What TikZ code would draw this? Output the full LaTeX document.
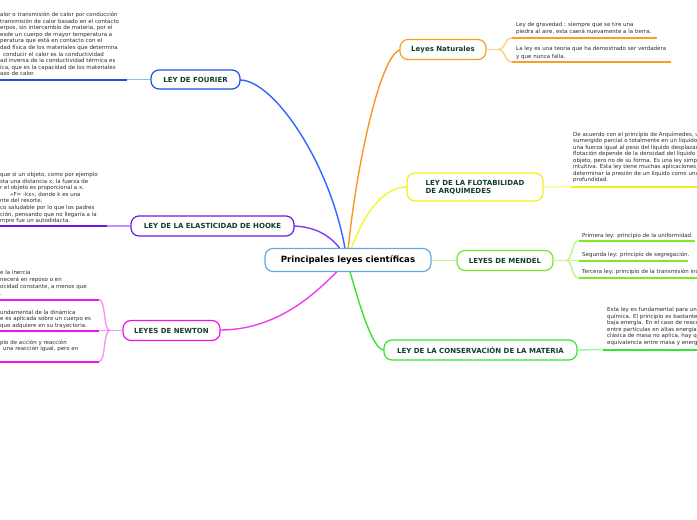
\documentclass[tikz,border=0pt]{standalone}
\usepackage{fontspec}
\setmainfont{DejaVu Sans}
\definecolor{centc}{RGB}{100,170,225}
\definecolor{labc}{RGB}{18,62,48}
\definecolor{txtc}{RGB}{45,45,45}
\definecolor{fouD}{RGB}{30,80,230}
\definecolor{fouL}{RGB}{150,185,255}
\definecolor{fouC}{RGB}{50,100,255}
\definecolor{hooD}{RGB}{110,20,240}
\definecolor{hooL}{RGB}{185,150,255}
\definecolor{hooC}{RGB}{130,60,245}
\definecolor{newD}{RGB}{235,20,235}
\definecolor{newL}{RGB}{245,150,245}
\definecolor{newC}{RGB}{240,60,240}
\definecolor{natD}{RGB}{250,160,30}
\definecolor{natL}{RGB}{255,205,140}
\definecolor{natC}{RGB}{250,150,30}
\definecolor{arqD}{RGB}{240,240,20}
\definecolor{arqL}{RGB}{250,250,150}
\definecolor{arqC}{RGB}{245,245,50}
\definecolor{menD}{RGB}{130,230,40}
\definecolor{menL}{RGB}{190,245,140}
\definecolor{conD}{RGB}{50,230,50}
\definecolor{conL}{RGB}{160,245,160}
\newcommand\tblock[1]{\vtop{\let\\\cr\halign{##\hfil\cr#1\crcr}}}
\begin{document}
\begin{tikzpicture}[x=1pt,y=-1pt,
  topic/.style={draw, rounded corners=8pt, line width=1.2pt, fill=white, inner sep=0pt,
    font=\fontsize{7}{8}\selectfont\bfseries, text=labc},
  txt/.style={anchor=base west, inner sep=0pt, font=\fontsize{5.5}{6.6}\selectfont, text=txtc},
  conn/.style={line width=1.4pt},
  uline/.style={line width=2pt},
]
\path[use as bounding box] (0,0) rectangle (697,520);
\clip (0,0) rectangle (697,520);
\coordinate (cc) at (347,261);

% main curves
\coordinate (fouP) at (240,80);
\draw[conn, fouC] (fouP) .. controls (275,80) and (335,170) .. (cc);
\coordinate (hooP) at (294,226);
\draw[conn, hooC] (hooP) .. controls (320,227) and (338,240) .. (cc);
\coordinate (newP) at (220,330);
\draw[conn, newC] (newP) .. controls (280,330) and (320,290) .. (cc);
\coordinate (natP) at (400,50);
\draw[conn, natC] (natP) .. controls (380,55) and (355,170) .. (cc);
\coordinate (arqP) at (407,187);
\draw[conn, arqC] (arqP) .. controls (380,187) and (360,220) .. (cc);
\coordinate (conP) at (384,350);
\draw[conn, conD] (cc) .. controls (358,300) and (372,350) .. (conP);

% nodes
\node[topic, draw=fouD, minimum width=89pt, minimum height=19pt] (fourier) at (195.5,79.5) {LEY DE FOURIER};
\node[topic, draw=hooD, minimum width=163pt, minimum height=20pt] (hooke) at (212.5,226) {LEY DE LA ELASTICIDAD DE HOOKE};
\node[topic, draw=newD, minimum width=97pt, minimum height=20pt] (newton) at (171.5,330.5) {LEYES DE NEWTON};
\node[topic, draw=natD, minimum width=86pt, minimum height=20pt] (nat) at (443,49.5) {Leyes Naturales};
\node[topic, draw=arqD, minimum width=136pt, minimum height=28pt, align=left] (arq) at (475,187) {LEY DE LA FLOTABILIDAD\\DE ARQUÍMEDES};
\node[topic, draw=menD, minimum width=96pt, minimum height=20pt] (mendel) at (505,260.5) {LEYES DE MENDEL};
\node[topic, draw=conD, minimum width=193pt, minimum height=20pt] (cons) at (480.5,350) {LEY DE LA CONSERVACIÓN DE LA MATERIA};
\draw[conn, menL] (431,260.5) -- (mendel.west);
\node[topic, draw=centc, minimum width=166pt, minimum height=23pt,
  font=\fontsize{8.6}{10}\selectfont\bfseries, text=black] (c) at (348,260) {Principales leyes científicas};

% Fourier branch
\coordinate (fouU) at (127,79.5);
\coordinate (fouE) at (0,79.5);
\draw[conn, fouL] (fourier.west) -- (fouU);
\draw[uline, fouD] (fouU) -- (fouE);
\node[txt] (tfou) at (0,16.5) {\tblock{alor o transmisión de calor por conducción\\
transmisión de calor basado en el contacto\\
erpos, sin intercambio de materia, por el\\
esde un cuerpo de mayor temperatura a\\
peratura que está en contacto con el\\
dad física de los materiales que determina\\
\hspace{3pt}conducir el calor es la conductividad\\
ad inversa de la conductividad térmica es\\
ica, que es la capacidad de los materiales\\
aso de calor.}};

% Hooke branch
\coordinate (hooU) at (107,226);
\coordinate (hooE) at (0,226);
\draw[conn, hooL] (hooke.west) -- (hooU);
\draw[uline, hooD] (hooU) -- (hooE);
\node[txt] (thoo) at (0,176.5) {\tblock{que si un objeto, como por ejemplo\\
sta una distancia x, la fuerza de\\
r el objeto es proporcional a x.\\
\hspace{10pt}«F= -kx», donde k es una\\
nte del resorte.\\
co saludable por lo que los padres\\
ción, pensando que no llegaría a la\\
mpre fue un autodidacta.}};

% Newton branch
\coordinate (newB) at (110,330.5);
\coordinate (new1) at (99,299.5);
\coordinate (new2) at (99,330.5);
\coordinate (new3) at (99,361.5);
\coordinate (new1e) at (0,299.5);
\coordinate (new2e) at (0,330.5);
\coordinate (new3e) at (0,361.5);
\draw[conn, newL] (newton.west) -- (newB);
\draw[conn, newL] (newB) .. controls (103,330.5) and (106,299.5) .. (new1);
\draw[conn, newL] (newB) -- (new2);
\draw[conn, newL] (newB) .. controls (103,330.5) and (106,361.5) .. (new3);
\draw[uline, newD] (new1) -- (new1e);
\draw[uline, newD] (new2) -- (new2e);
\draw[uline, newD] (new3) -- (new3e);
\node[txt, font=\fontsize{5.5}{6.9}\selectfont] (tnew1) at (0,274.5) {\tblock{e la inercia\\
necerá en reposo o en\\
ocidad constante, a menos que\\
.}};
\node[txt, font=\fontsize{5.5}{6.4}\selectfont] (tnew2) at (0,314.2) {\tblock{undamental de la dinámica\\
e es aplicada sobre un cuerpo es\\
que adquiere en su trayectoria.}};
\node[txt, font=\fontsize{5.5}{6.5}\selectfont] (tnew3) at (0,344.2) {\tblock{pio de acción y reacción\\
\hspace{3pt}una reacción igual, pero en}};

% Naturales branch
\coordinate (natB) at (498,49.5);
\coordinate (nat1) at (512,38);
\coordinate (nat2) at (512,62);
\coordinate (nat1e) at (657,38);
\coordinate (nat2e) at (671,62);
\draw[conn, natL] (nat.east) -- (natB);
\draw[conn, natL] (natB) .. controls (506,49.5) and (504,38) .. (nat1);
\draw[conn, natL] (natB) .. controls (506,49.5) and (504,62) .. (nat2);
\draw[uline, natD] (nat1) -- (nat1e);
\draw[uline, natD] (nat2) -- (nat2e);
\node[txt, font=\fontsize{5.5}{7.3}\selectfont] (tnat1) at (516,26.6) {\tblock{Ley de gravedad : siempre que se tire una\\
piedra al aire, esta caerá nuevamente a la tierra.}};
\node[txt, font=\fontsize{5.5}{7.3}\selectfont] (tnat2) at (516,50.9) {\tblock{La ley es una teoría que ha demostrado ser verdadera\\
y que nunca falla.}};

% Arquimedes branch
\coordinate (arqU) at (571,186.5);
\coordinate (arqE) at (697,186.5);
\draw[conn, arqL] (arq.east) -- (arqU);
\draw[uline, arqD] (arqU) -- (arqE);
\node[txt, font=\fontsize{5.5}{6.45}\selectfont] (tarq) at (573,136.5) {\tblock{De acuerdo con el principio de Arquímedes, u\\
sumergido parcial o totalmente en un líquido\\
una fuerza igual al peso del líquido desplazad\\
flotación depende de la densidad del líquido y\\
objeto, pero no de su forma. Es una ley simp\\
intuitiva. Esta ley tiene muchas aplicaciones,\\
determinar la presión de un líquido como una\\
profundidad.}};

% Mendel branch
\coordinate (menB) at (566,260.5);
\coordinate (men1) at (579,240.5);
\coordinate (men2) at (579,260.5);
\coordinate (men3) at (579,278);
\coordinate (men1e) at (695,240.5);
\coordinate (men2e) at (688,260.5);
\coordinate (men3e) at (697,278);
\draw[conn, menL] (mendel.east) -- (menB);
\draw[conn, menL] (menB) .. controls (573,260.5) and (571,240.5) .. (men1);
\draw[conn, menL] (menB) -- (men2);
\draw[conn, menL] (menB) .. controls (573,260.5) and (571,278) .. (men3);
\draw[uline, menD] (men1) -- (men1e);
\draw[uline, menD] (men2) -- (men2e);
\draw[uline, menD] (men3) -- (men3e);
\node[txt] (tmen1) at (582,237.2) {Primera ley: principio de la uniformidad.};
\node[txt] (tmen2) at (582,256.8) {Segunda ley: principio de segregación.};
\node[txt] (tmen3) at (582,273.2) {Tercera ley: principio de la transmisión inde};

% Conservacion branch
\coordinate (conU) at (603,349.5);
\coordinate (conE) at (697,349.5);
\draw[conn, conL] (cons.east) -- (conU);
\draw[uline, conD] (conU) -- (conE);
\node[txt] (tcon) at (607,311.5) {\tblock{Esta ley es fundamental para un\\
química. El principio es bastante\\
baja energía. En el caso de reacc\\
entre partículas en altas energía\\
clásica de masa no aplica, hay q\\
equivalencia entre masa y energ}};
\end{tikzpicture}
\end{document}
